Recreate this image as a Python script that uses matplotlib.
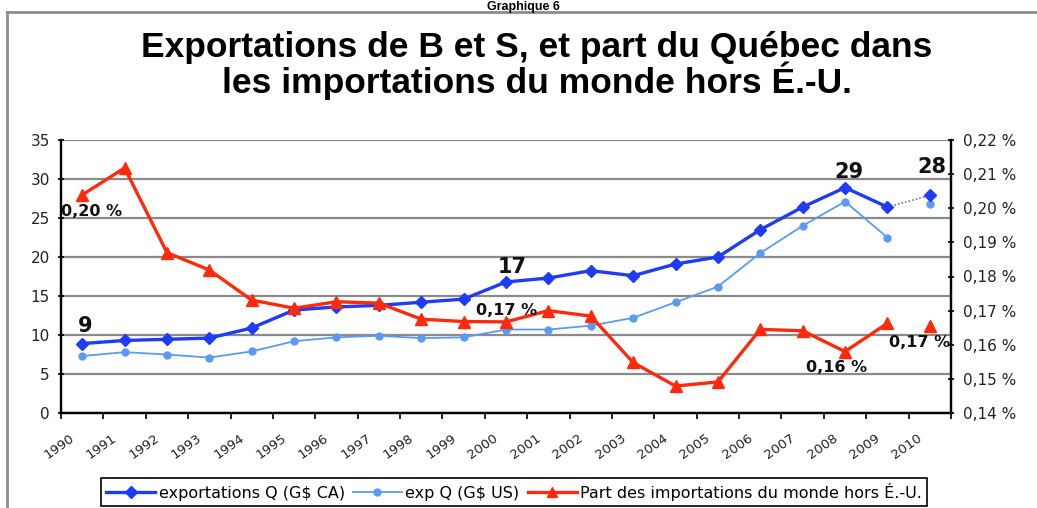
import matplotlib
matplotlib.use("Agg")
import matplotlib.pyplot as plt
from matplotlib.lines import Line2D
from matplotlib.ticker import FuncFormatter, FixedLocator

# --- données ---
annees = list(range(1990, 2011))
exp_ca = [8.9, 9.3, 9.45, 9.6, 10.9, 13.2, 13.6, 13.8, 14.2, 14.6, 16.8,
          17.3, 18.25, 17.6, 19.1, 20.0, 23.5, 26.4, 28.9, 26.4, 27.9]
exp_us = [7.3, 7.8, 7.5, 7.1, 7.9, 9.2, 9.7, 9.9, 9.6, 9.7, 10.7,
          10.7, 11.2, 12.2, 14.2, 16.2, 20.5, 24.0, 27.1, 22.5, 26.8]
part = [0.2039, 0.2118, 0.1870, 0.1819, 0.1731, 0.1707, 0.1726, 0.1722,
        0.1675, 0.1668, 0.1667, 0.1700, 0.1684, 0.1548, 0.1479, 0.1491,
        0.1645, 0.1641, 0.1580, 0.1663, 0.1655]
etiq_exp = {1990: "9", 2000: "17", 2008: "29", 2010: "28"}
etiq_part = {1990: "0,20 %", 2000: "0,17 %", 2008: "0,16 %", 2010: "0,17 %"}

BLEU = "#1e3cf5"
BLEU_CL = "#5a9af2"
ROUGE = "#ff2a0c"
FONT = "DejaVu Sans"

x = list(range(len(annees)))

fig = plt.figure(figsize=(10.37, 5.08), dpi=100)
ax = fig.add_axes([61 / 1037, 1 - 413 / 508, 890 / 1037, 273 / 508])
ax2 = ax.twinx()

# exportations CA : trait plein jusqu'en 2009, pointillé vers 2010
ax.plot(x[:20], exp_ca[:20], color=BLEU, lw=2.4, marker="D", ms=6, zorder=4)
ax.plot(x[19:], exp_ca[19:], color=BLEU, lw=1, ls=":", zorder=3)
ax.plot(x[20:], exp_ca[20:], color=BLEU, ls="none", marker="D", ms=6, zorder=4)

# exportations US
ax.plot(x[:20], exp_us[:20], color=BLEU_CL, lw=1.3, marker="o", ms=5, zorder=3)
ax.plot(x[20:], exp_us[20:], color=BLEU_CL, ls="none", marker="o", ms=5, zorder=3)

# part du Québec (axe de droite)
ax2.plot(x[:20], part[:20], color=ROUGE, lw=2.4, marker="^", ms=8, zorder=4)
ax2.plot(x[20:], part[20:], color=ROUGE, ls="none", marker="^", ms=8, zorder=4)

ax.set_xlim(-0.5, 20.5)
ax.set_ylim(0, 35)
ax2.set_ylim(0.14, 0.22)
ax.set_yticks(range(0, 36, 5))
ax2.set_yticks([0.14 + 0.01 * i for i in range(9)])
ax2.yaxis.set_major_formatter(FuncFormatter(lambda v, p: f"{v:.2f} %".replace(".", ",")))

ax.grid(axis="y", color="#8a8a8a", lw=1.6)
ax.set_axisbelow(True)

# graduations entre les catégories, étiquettes décalées (style Excel)
ax.xaxis.set_major_locator(FixedLocator([i - 0.5 for i in range(22)]))
ax.xaxis.set_major_formatter(FuncFormatter(lambda v, p: ""))
ax.xaxis.set_minor_locator(FixedLocator([i - 0.3 for i in x]))
ax.set_xticklabels([str(a) for a in annees], minor=True, rotation=35,
                   ha="right", va="top", rotation_mode="anchor",
                   fontsize=9.5, family=FONT, color="#222222")
ax.tick_params(axis="x", which="minor", length=0, pad=13)
ax.tick_params(axis="x", which="major", length=4, width=1.2, direction="out")
ax.tick_params(axis="y", length=4, width=1.2, direction="inout", labelsize=11,
               labelcolor="#222222", pad=6)
ax2.tick_params(axis="y", length=5, width=1.2, direction="inout", labelsize=11,
                labelcolor="#222222", pad=6)
for lab in ax.get_yticklabels() + ax2.get_yticklabels():
    lab.set_family(FONT)

for a in (ax, ax2):
    a.spines["top"].set_visible(False)
    for s in ("left", "right", "bottom"):
        a.spines[s].set_linewidth(1.6)
        a.spines[s].set_color("black")

# étiquettes de valeurs
dec_exp = {1990: (3, 18), 2000: (6, 15), 2008: (4, 16), 2010: (2, 28)}
for an, txt in etiq_exp.items():
    i = annees.index(an)
    ax.annotate(txt, (i, exp_ca[i]), xytext=dec_exp[an], textcoords="offset pixels",
                ha="center", va="center", fontsize=15, fontweight="bold",
                family=FONT, color="#111111", zorder=6)
dec_part = {1990: (9, -17), 2000: (1, 11), 2008: (-8, -16), 2010: (-10, -17)}
for an, txt in etiq_part.items():
    i = annees.index(an)
    ax2.annotate(txt, (i, part[i]), xytext=dec_part[an], textcoords="offset pixels",
                 ha="center", va="center", fontsize=11.5, fontweight="bold",
                 family=FONT, color="#111111", zorder=6)

# titres
fig.text(0.505, 1 - 10 / 508, "Graphique 6", ha="center", va="baseline", fontsize=9,
         fontweight="bold", family="Liberation Sans")
fig.text(0.518, 1 - 48 / 508, "Exportations de B et S, et part du Québec dans",
         ha="center", va="center", fontsize=25.5, fontweight="bold", family="Liberation Sans")
fig.text(0.518, 1 - 81 / 508, "les importations du monde hors É.-U.",
         ha="center", va="center", fontsize=25.5, fontweight="bold", family="Liberation Sans")

# cadre gris autour du graphique
fig.add_artist(Line2D([7 / 1037, 7 / 1037], [0, 1 - 12 / 508], color="#8c8c8c", lw=2,
                      transform=fig.transFigure))
fig.add_artist(Line2D([7 / 1037, 1], [1 - 12 / 508, 1 - 12 / 508], color="#8c8c8c", lw=2,
                      transform=fig.transFigure))

# légende
poignees = [
    Line2D([], [], color=BLEU, lw=2.4, marker="D", ms=6),
    Line2D([], [], color=BLEU_CL, lw=1.3, marker="o", ms=5),
    Line2D([], [], color=ROUGE, lw=2.4, marker="^", ms=7),
]
noms = ["exportations Q (G$ CA)", "exp Q (G$ US)",
        "Part des importations du monde hors É.-U."]
leg = fig.legend(poignees, noms, loc="center", bbox_to_anchor=(514 / 1037, 1 - 492 / 508),
                 ncol=3, fancybox=False, edgecolor="black", framealpha=1,
                 prop={"family": FONT, "size": 11.5}, handlelength=3.1,
                 handletextpad=0.2, columnspacing=0.5, borderpad=0.3,
                 borderaxespad=0)
leg.get_frame().set_linewidth(1.2)

fig.savefig("out.png", dpi=100)
